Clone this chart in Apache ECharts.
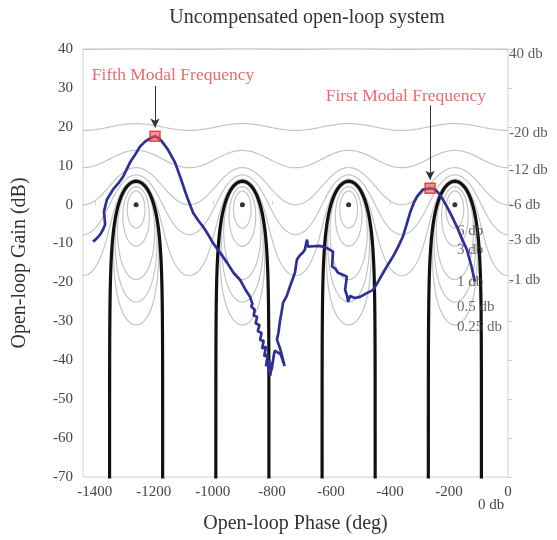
<!DOCTYPE html>
<html>
<head>
<meta charset="utf-8">
<script src="https://cdn.jsdelivr.net/npm/echarts@6/dist/echarts.min.js"></script>
<style>
  html, body { margin: 0; padding: 0; background: #fff; }
  #chart { width: 557px; height: 540px; }
</style>
</head>
<body>
<div id="chart"></div>
<script>
// open-loop response (phase deg, gain dB)
const phaseDeg = [
  -1406, -1395, -1382, -1372, -1365, -1369, -1359, -1338, -1320, -1304,
  -1281, -1262, -1247, -1230, -1213, -1196, -1182, -1172, -1152, -1128,
  -1111, -1088, -1067, -1050, -1033, -1015, -1000, -975, -952, -930,
  -908, -890, -874, -866, -870, -858, -862, -850, -855, -842,
  -848, -835, -840, -828, -833, -820, -826, -814, -820, -808,
  -812, -804, -806, -798, -801, -793, -790, -770, -757, -772,
  -783, -778, -773, -768, -762, -750, -739, -722, -718, -715,
  -705, -695, -688, -681, -678, -660, -640, -627, -610, -593,
  -596, -585, -576, -560, -546, -552, -545, -542, -535, -520,
  -501, -480, -457, -440, -423, -405, -390, -372, -356, -344,
  -332, -320, -308, -288, -264, -250, -237, -222, -207, -190,
  -173, -156, -139, -125, -112
];
const gainDb = [
  -9.5, -8.8, -7.7, -6.4, -5.1, -1.8, 1.3, 3.9, 5.5, 7.2,
  10.8, 13.0, 14.9, 16.2, 17.0, 17.6, 17.0, 16.2, 14.1, 10.8,
  7.2, 2.1, -2.1, -4.0, -5.7, -7.8, -9.8, -12.4, -14.9, -17.5,
  -19.3, -21.8, -23.7, -25.5, -26.2, -27.0, -28.5, -28.8, -30.5, -31.0,
  -32.5, -33.0, -34.8, -35.0, -37.0, -36.5, -39.0, -38.5, -41.5, -40.0,
  -43.0, -41.0, -44.0, -40.5, -42.5, -38.5, -37.5, -38.5, -41.5, -37.0,
  -34.7, -33.0, -30.1, -28.0, -25.2, -23.5, -21.1, -17.5, -15.5, -14.1,
  -13.0, -12.3, -11.5, -9.0, -10.8, -10.7, -10.6, -10.8, -11.3, -12.1,
  -15.9, -16.5, -17.5, -18.0, -18.5, -21.9, -23.5, -25.0, -23.5, -24.0,
  -23.7, -22.8, -21.9, -19.8, -17.5, -15.2, -13.4, -10.8, -8.2, -5.2,
  -2.1, 0.3, 2.1, 3.9, 4.2, 4.0, 3.1, 1.5, -0.5, -3.0,
  -5.7, -8.8, -11.6, -15.5, -19.8
];

// modal frequency markers
const modeNames = ['Fifth Modal Frequency', 'First Modal Frequency'];
const modePhase = [-1196, -264];
const modeGain = [17.6, 4.2];

// Nichols grid: closed-loop magnitude levels (dB) and critical points
const closedLevels = [6, 3, 1, 0.5, 0.25];
const openLevels = [-1, -3, -6, -12, -20, -40];
const criticalPhase = [-1260, -900, -540, -180];
const xTicks = [-1400, -1200, -1000, -800, -600, -400, -200, 0];

// contour labels
const rightLabels = ['40 db', '-20 db', '-12 db', '-6 db', '-3 db', '-1 db'];
const rightLabelGain = [38.7, 18.5, 9.0, 0, -9.0, -19.3];
const innerLabels = ['6 db', '3 db', '1 db', '0.5 db', '0.25 db'];
const innerLabelGain = [-6.9, -11.6, -20, -26.2, -31.4];

const serif = "'Liberation Serif', 'Times New Roman', serif";

// one period of an M contour, phase in (-360, 0], gain axis flipped as in the figure
function mContour(mDb) {
  const M = Math.pow(10, mDb / 20);
  const pts = [];
  if (mDb === 0) {
    const n = 600;
    for (let i = 0; i <= n; i++) {
      const u = -Math.PI / 2 + 1e-5 + (Math.PI - 2e-5) * i / n;
      const re = -0.5, im = Math.tan(u);
      let arg = Math.atan2(im, re) * 180 / Math.PI;
      if (arg > 0) arg -= 360;
      pts.push([arg, -20 * Math.log10(Math.hypot(re, im))]);
    }
    return pts;
  }
  const c0 = -M * M / (M * M - 1);
  const R = Math.abs(M / (M * M - 1));
  const n = 720;
  for (let i = 0; i <= n; i++) {
    const th = 2 * Math.PI * i / n;
    const re = c0 + R * Math.cos(th), im = R * Math.sin(th);
    let arg = Math.atan2(im, re) * 180 / Math.PI;
    if (M < 1) {
      if (th <= Math.PI) arg -= 360;
    } else if (arg > 0) {
      arg -= 360;
    }
    pts.push([arg, -20 * Math.log10(Math.hypot(re, im))]);
  }
  return pts;
}

function shifted(pts, c) {
  return pts.map(p => [p[0] + c + 180, p[1]]);
}

const series = [];

closedLevels.forEach(lv => {
  const base = mContour(lv);
  criticalPhase.forEach(c => {
    series.push({
      type: 'line', data: shifted(base, c), symbol: 'none', silent: true, z: 1,
      lineStyle: { color: '#c4c4c4', width: 1.2 }
    });
  });
});

openLevels.forEach(lv => {
  const base = mContour(lv);
  let data = [];
  criticalPhase.forEach(c => { data = data.concat(shifted(base, c)); });
  series.push({
    type: 'line', data: data, symbol: 'none', silent: true, z: 1,
    lineStyle: { color: '#c4c4c4', width: 1.2 }
  });
});

const zeroDb = mContour(0);
criticalPhase.forEach(c => {
  series.push({
    type: 'line', data: shifted(zeroDb, c), symbol: 'none', silent: true, z: 2,
    lineStyle: { color: '#111', width: 3.2 }
  });
});

series.push({
  type: 'scatter', silent: true, z: 2, symbolSize: 5,
  itemStyle: { color: '#000' },
  data: criticalPhase.map(c => [c, 0])
});

series.push({
  type: 'line', name: 'response', symbol: 'none', z: 3,
  lineStyle: { color: '#2f2f98', width: 2.7 },
  data: phaseDeg.map((p, i) => [p, gainDb[i]])
});

series.push({
  type: 'scatter', z: 4, symbol: 'rect', symbolSize: 10,
  itemStyle: { color: 'rgba(235,80,80,0.75)', borderColor: '#e02828', borderWidth: 1.5 },
  data: modePhase.map((p, i) => [p, modeGain[i]]),
  markLine: {
    silent: true, animation: false,
    symbol: ['none', 'arrow'], symbolSize: [7, 9],
    lineStyle: { color: '#333', width: 1, type: 'solid' },
    label: { show: false },
    data: [
      [{ coord: [modePhase[0], 30.5] }, { coord: [modePhase[0], modeGain[0] + 2.2] }],
      [{ coord: [modePhase[1], 25.5] }, { coord: [modePhase[1], modeGain[1] + 2.2] }]
    ]
  }
});

// red annotation text
series.push({
  type: 'scatter', silent: true, symbolSize: 0, z: 5,
  data: [[-1135, 33.2], [-346, 27.8]].map((v, i) => ({
    value: v,
    label: {
      show: true, position: 'inside', formatter: modeNames[i],
      color: '#e04848', fontFamily: serif, fontSize: 17.5
    }
  }))
});

// contour labels on the right edge
series.push({
  type: 'scatter', silent: true, symbolSize: 0, z: 5,
  data: rightLabels.map((t, i) => ({
    value: [0, rightLabelGain[i]],
    label: {
      show: true, position: 'right', distance: 1, formatter: t,
      color: '#333', fontFamily: serif, fontSize: 15
    }
  }))
});

// contour labels inside the last lobe
series.push({
  type: 'scatter', silent: true, symbolSize: 0, z: 5,
  data: innerLabels.map((t, i) => ({
    value: [-173, innerLabelGain[i]],
    label: {
      show: true, position: 'right', distance: 0, formatter: t,
      color: '#444', fontFamily: serif, fontSize: 15
    }
  }))
});

const chart = echarts.init(document.getElementById('chart'));
chart.setOption({
  animation: false,
  backgroundColor: '#fff',
  grid: {
    left: 83, right: 49, top: 49, bottom: 63,
    show: true, borderColor: '#cfcfcf', borderWidth: 1
  },
  xAxis: {
    type: 'value', min: -1440, max: 0,
    name: 'Open-loop Phase (deg)', nameLocation: 'middle', nameGap: 37,
    nameTextStyle: { fontFamily: serif, fontSize: 20, color: '#333' },
    axisLine: { show: false },
    axisTick: { inside: true, length: 4, lineStyle: { color: '#cfcfcf' }, customValues: xTicks },
    axisLabel: {
      customValues: xTicks, formatter: v => String(v),
      fontFamily: serif, fontSize: 15, color: '#444', margin: 8
    },
    splitLine: { show: false }
  },
  yAxis: {
    type: 'value', min: -70, max: 40, interval: 10,
    name: 'Open-loop Gain (dB)', nameLocation: 'middle', nameGap: 53,
    nameTextStyle: { fontFamily: serif, fontSize: 20, color: '#333' },
    axisLine: { show: false },
    axisTick: { inside: true, length: 4, lineStyle: { color: '#cfcfcf' } },
    axisLabel: { fontFamily: serif, fontSize: 15, color: '#444', margin: 10 },
    splitLine: { show: false }
  },
  graphic: [
    {
      type: 'text', x: 307, y: 18,
      style: {
        text: 'Uncompensated open-loop system', textAlign: 'center', textVerticalAlign: 'middle',
        font: "20px 'Liberation Serif', serif", fill: '#333'
      }
    },
    {
      type: 'text', x: 478, y: 498,
      style: { text: '0 db', font: "15px 'Liberation Serif', serif", fill: '#444' }
    }
  ],
  series: series
});
</script>
</body>
</html>
